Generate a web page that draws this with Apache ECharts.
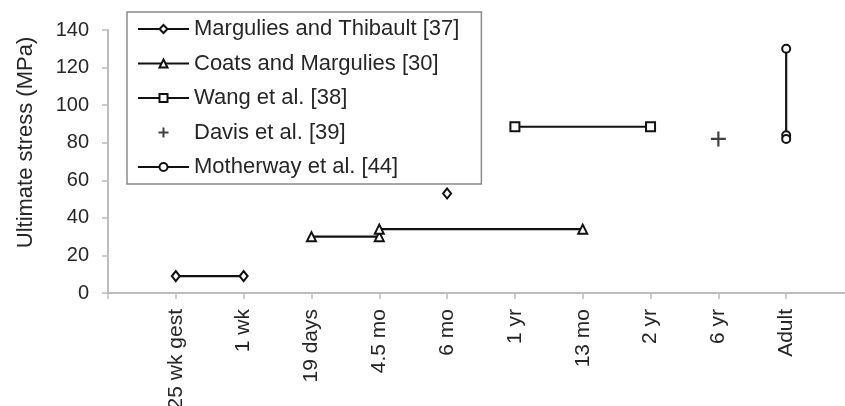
<!DOCTYPE html>
<html>
<head>
<meta charset="utf-8">
<script src="https://cdn.jsdelivr.net/npm/echarts@6/dist/echarts.min.js"></script>
<style>
html,body{margin:0;padding:0;background:#fff;}
#chart{width:845px;height:406px;}
</style>
</head>
<body>
<div id="chart"></div>
<script>
// Categories (blank padding categories at both ends so points sit one step in)
const categories = ['', '25 wk gest', '1 wk', '19 days', '4.5 mo', '6 mo', '1 yr', '13 mo', '2 yr', '6 yr', 'Adult', ''];
const yTicks = { min: 0, max: 140, interval: 20 };
const yTitle = 'Ultimate stress (MPa)';

const seriesNames = [
  'Margulies and Thibault [37]',
  'Coats and Margulies [30]',
  'Wang et al. [38]',
  'Davis et al. [39]',
  'Motherway et al. [44]'
];

// Values
const marguliesSeg = [['25 wk gest', 9], ['1 wk', 9]];
const marguliesPoint = [['6 mo', 53]];
const coatsSegA = [['19 days', 30], ['4.5 mo', 30]];
const coatsSegB = [['4.5 mo', 34], ['13 mo', 34]];
const wangVals = [['1 yr', 88.5], ['2 yr', 88.5]];
const davisVals = [['6 yr', 82]];
const motherwayVals = [['Adult', 130], ['Adult', 84], ['Adult', 82]];

const FONT = '"Liberation Sans", Arial, sans-serif';
const INK = '#111';
const TXT = '#262626';
const AXIS = '#bdbdbd';
const plusPath = 'path://M6.4,0 L8.6,0 L8.6,6.4 L15,6.4 L15,8.6 L8.6,8.6 L8.6,15 L6.4,15 L6.4,8.6 L0,8.6 L0,6.4 L6.4,6.4 Z';
const plusLegend = 'path://M6,0 L9,0 L9,6 L15,6 L15,9 L9,9 L9,15 L6,15 L6,9 L0,9 L0,6 L6,6 Z';

function lineSeries(name, data, symbol, size, bw) {
  return {
    type: 'line', name: name, data: data,
    symbol: symbol, symbolSize: size, showSymbol: true,
    lineStyle: { color: INK, width: 2.2 },
    itemStyle: { color: INK, borderColor: INK, borderWidth: bw },
    emphasis: { disabled: true },
    animation: false, z: 3
  };
}

const chart = echarts.init(document.getElementById('chart'), null, { renderer: 'canvas' });
chart.setOption({
  backgroundColor: '#fff',
  animation: false,
  textStyle: { fontFamily: FONT },
  grid: { left: 108, right: -9, top: 30, bottom: 113, outerBoundsMode: 'none', containLabel: false },
  legend: {
    data: [
      { name: seriesNames[0] },
      { name: seriesNames[1] },
      { name: seriesNames[2] },
      { name: seriesNames[3], icon: plusLegend },
      { name: seriesNames[4] }
    ],
    orient: 'vertical',
    left: 127, top: 12,
    padding: [6, 22, 6, 10],
    itemWidth: 51, itemHeight: 10, itemGap: 12.5,
    borderColor: '#8a8a8a', borderWidth: 1.5,
    backgroundColor: '#fff',
    textStyle: { fontFamily: FONT, fontSize: 22, color: TXT, lineHeight: 22 },
    selectedMode: false
  },
  xAxis: {
    type: 'category', data: categories, boundaryGap: false,
    axisLine: { show: true, lineStyle: { color: AXIS, width: 2 } },
    axisTick: { show: true, length: 6, lineStyle: { color: AXIS, width: 1.5 }, interval: 0 },
    axisLabel: { rotate: 90, interval: 0, margin: 16, fontFamily: FONT, fontSize: 21, color: TXT },
    splitLine: { show: false }
  },
  yAxis: {
    type: 'value', min: yTicks.min, max: yTicks.max, interval: yTicks.interval,
    name: yTitle, nameLocation: 'middle', nameRotate: 90, nameGap: 71,
    nameTextStyle: { fontFamily: FONT, fontSize: 22, color: TXT, padding: [0, 0, 0, 38] },
    axisLine: { show: true, lineStyle: { color: AXIS, width: 2 } },
    axisTick: { show: true, length: 6, lineStyle: { color: AXIS, width: 1.5 } },
    axisLabel: { margin: 19, fontFamily: FONT, fontSize: 20, color: TXT },
    splitLine: { show: false }
  },
  series: [
    lineSeries(seriesNames[0], marguliesSeg, 'emptyDiamond', [8, 10], 1.6),
    lineSeries(seriesNames[0], marguliesPoint, 'emptyDiamond', [8, 10], 1.6),
    lineSeries(seriesNames[1], coatsSegA, 'emptyTriangle', 9, 1.6),
    lineSeries(seriesNames[1], coatsSegB, 'emptyTriangle', 9, 1.6),
    lineSeries(seriesNames[2], wangVals, 'emptyRect', 9, 2),
    {
      type: 'scatter', name: seriesNames[3], data: davisVals,
      symbol: plusPath, symbolSize: 15, symbolKeepAspect: true,
      itemStyle: { color: INK }, emphasis: { disabled: true }, z: 3
    },
    lineSeries(seriesNames[4], motherwayVals, 'emptyCircle', 8, 1.8)
  ]
});
</script>
</body>
</html>
